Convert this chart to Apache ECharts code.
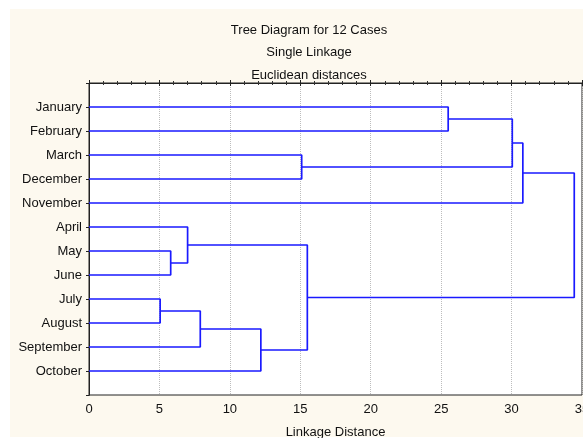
<!DOCTYPE html>
<html>
<head>
<meta charset="utf-8">
<script src="https://cdn.jsdelivr.net/npm/echarts@6/dist/echarts.min.js"></script>
<style>
  html, body { margin: 0; padding: 0; background: #fff; }
  #chart { width: 583px; height: 438px; }
</style>
</head>
<body>
<div id="chart"></div>
<script>
// leaves, top to bottom
var leafLabels = ['January', 'February', 'March', 'December', 'November', 'April',
    'May', 'June', 'July', 'August', 'September', 'October'];
// joins: node ids 0..11 are leaves, each join makes node 12, 13, ...
var joinA    = [8,    6,   5,   12,  15,   2,    14,   0,    19,    20,   21];
var joinB    = [9,    7,   13,  10,  11,   3,    16,   1,    17,    4,    18];
var joinDist = [5.05, 5.8, 7.0, 7.9, 12.2, 15.1, 15.5, 25.5, 30.05, 30.8, 34.45];
var xTicks = [0, 5, 10, 15, 20, 25, 30, 35];

var titleLines = ['Tree Diagram for 12 Cases', 'Single Linkage', 'Euclidean distances'];

// node position: y = row (1..12), x = height of join
var nodeY = [], nodeX = [];
leafLabels.forEach(function (name, i) { nodeY.push(i + 1); nodeX.push(0); });
joinDist.forEach(function (d, k) {
    nodeY.push((nodeY[joinA[k]] + nodeY[joinB[k]]) / 2);
    nodeX.push(d);
});

var lineColor = '#1a1aff';
var series = [];
joinDist.forEach(function (d, k) {
    var a = joinA[k], b = joinB[k];
    series.push({
        type: 'line',
        showSymbol: false,
        silent: true,
        animation: false,
        lineStyle: { color: lineColor, width: 1.7 },
        data: [[nodeX[a], nodeY[a]], [d, nodeY[a]], [d, nodeY[b]], [nodeX[b], nodeY[b]]]
    });
});

var font = 'Liberation Sans, Arial, sans-serif';
var chart = echarts.init(document.getElementById('chart'));
var option = {
    backgroundColor: '#ffffff',
    animation: false,
    graphic: [{
        type: 'rect',
        z: -100,
        shape: { x: 10, y: 9, width: 600, height: 428 },
        style: { fill: '#fdf9ef' }
    }],
    title: {
        text: titleLines.join('\n'),
        left: 304,
        top: 14,
        textAlign: 'center',
        textStyle: { fontFamily: font, fontSize: 13, fontWeight: 'normal', color: '#111', lineHeight: 22.5 }
    },
    grid: {
        left: 89, right: 1, top: 83, bottom: 43,
        outerBoundsMode: 'none',
        containLabel: false,
        show: true, backgroundColor: '#ffffff', borderColor: '#222', borderWidth: 1
    },
    xAxis: [{
        type: 'value',
        min: xTicks[0], max: xTicks[xTicks.length - 1], interval: 5,
        name: 'Linkage Distance', nameLocation: 'middle', nameGap: 31,
        nameTextStyle: { fontFamily: font, fontSize: 13, color: '#111' },
        axisLine: { show: true, lineStyle: { color: '#222' } },
        axisTick: { show: true, inside: true, length: 3, lineStyle: { color: '#222' } },
        minorTick: { show: true, splitNumber: 5, length: 2, lineStyle: { color: '#333' } },
        axisLabel: { fontFamily: font, fontSize: 13, color: '#111', margin: 8 },
        splitLine: { show: true, lineStyle: { color: '#bdbdbd', type: 'dotted' } }
    }, {
        type: 'value', position: 'top',
        min: xTicks[0], max: xTicks[xTicks.length - 1], interval: 5,
        axisLine: { show: true, lineStyle: { color: '#222' } },
        axisTick: { show: true, inside: true, length: 3, lineStyle: { color: '#222' } },
        minorTick: { show: true, splitNumber: 5, length: 2, lineStyle: { color: '#333' } },
        axisLabel: { show: false },
        splitLine: { show: false }
    }],
    yAxis: [{
        type: 'value', inverse: true,
        min: 0, max: leafLabels.length + 1, interval: 1,
        axisLine: { show: true, lineStyle: { color: '#222' } },
        axisTick: { show: false },
        axisLabel: {
            fontFamily: font, fontSize: 13, color: '#111', margin: 7,
            formatter: function (v) { return leafLabels[v - 1] || ''; }
        },
        splitLine: { show: false }
    }, {
        type: 'value', inverse: true, position: 'right',
        min: 0, max: leafLabels.length + 1, interval: 1,
        axisLine: { show: true, lineStyle: { color: '#222' } },
        axisTick: { show: true, inside: true, length: 3, lineStyle: { color: '#222' } },
        axisLabel: { show: false },
        splitLine: { show: false }
    }],
    series: series
};
chart.setOption(option);
</script>
</body>
</html>
